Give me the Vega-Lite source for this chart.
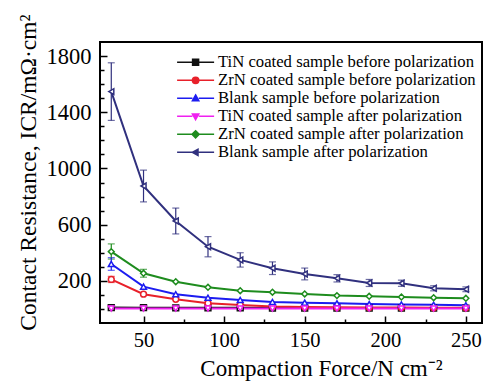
{
  "$schema": "https://vega.github.io/schema/vega-lite/v6.json",
  "width": 382,
  "height": 281,
  "autosize": "none",
  "padding": {"left": 100, "top": 42, "right": 6, "bottom": 58},
  "background": "white",
  "config": {"view": {"stroke": "black", "strokeWidth": 2}, "font": "Liberation Serif"},
  "datasets": {
    "pts": [
      {"x": 30, "y": 10, "series": "TiN coated sample before polarization"},
      {"x": 50, "y": 9, "series": "TiN coated sample before polarization"},
      {"x": 70, "y": 8, "series": "TiN coated sample before polarization"},
      {"x": 90, "y": 8, "series": "TiN coated sample before polarization"},
      {"x": 110, "y": 8, "series": "TiN coated sample before polarization"},
      {"x": 130, "y": 7, "series": "TiN coated sample before polarization"},
      {"x": 150, "y": 7, "series": "TiN coated sample before polarization"},
      {"x": 170, "y": 7, "series": "TiN coated sample before polarization"},
      {"x": 190, "y": 6, "series": "TiN coated sample before polarization"},
      {"x": 210, "y": 6, "series": "TiN coated sample before polarization"},
      {"x": 230, "y": 6, "series": "TiN coated sample before polarization"},
      {"x": 250, "y": 6, "series": "TiN coated sample before polarization"},
      {"x": 30, "y": 210, "series": "ZrN coated sample before polarization"},
      {"x": 50, "y": 105, "series": "ZrN coated sample before polarization"},
      {"x": 70, "y": 69, "series": "ZrN coated sample before polarization"},
      {"x": 90, "y": 41, "series": "ZrN coated sample before polarization"},
      {"x": 110, "y": 28, "series": "ZrN coated sample before polarization"},
      {"x": 130, "y": 18, "series": "ZrN coated sample before polarization"},
      {"x": 150, "y": 14, "series": "ZrN coated sample before polarization"},
      {"x": 170, "y": 12, "series": "ZrN coated sample before polarization"},
      {"x": 190, "y": 10, "series": "ZrN coated sample before polarization"},
      {"x": 210, "y": 10, "series": "ZrN coated sample before polarization"},
      {"x": 230, "y": 8, "series": "ZrN coated sample before polarization"},
      {"x": 250, "y": 8, "series": "ZrN coated sample before polarization"},
      {"x": 30, "y": 320, "series": "Blank sample before polarization"},
      {"x": 50, "y": 159, "series": "Blank sample before polarization"},
      {"x": 70, "y": 105, "series": "Blank sample before polarization"},
      {"x": 90, "y": 80, "series": "Blank sample before polarization"},
      {"x": 110, "y": 64, "series": "Blank sample before polarization"},
      {"x": 130, "y": 50, "series": "Blank sample before polarization"},
      {"x": 150, "y": 45, "series": "Blank sample before polarization"},
      {"x": 170, "y": 40, "series": "Blank sample before polarization"},
      {"x": 190, "y": 35, "series": "Blank sample before polarization"},
      {"x": 210, "y": 32, "series": "Blank sample before polarization"},
      {"x": 230, "y": 30, "series": "Blank sample before polarization"},
      {"x": 250, "y": 27, "series": "Blank sample before polarization"},
      {"x": 30, "y": 3, "series": "TiN coated sample after polarization"},
      {"x": 50, "y": 3, "series": "TiN coated sample after polarization"},
      {"x": 70, "y": 3, "series": "TiN coated sample after polarization"},
      {"x": 90, "y": 3, "series": "TiN coated sample after polarization"},
      {"x": 110, "y": 3, "series": "TiN coated sample after polarization"},
      {"x": 130, "y": 3, "series": "TiN coated sample after polarization"},
      {"x": 150, "y": 3, "series": "TiN coated sample after polarization"},
      {"x": 170, "y": 3, "series": "TiN coated sample after polarization"},
      {"x": 190, "y": 3, "series": "TiN coated sample after polarization"},
      {"x": 210, "y": 3, "series": "TiN coated sample after polarization"},
      {"x": 230, "y": 3, "series": "TiN coated sample after polarization"},
      {"x": 250, "y": 3, "series": "TiN coated sample after polarization"},
      {"x": 30, "y": 408, "series": "ZrN coated sample after polarization"},
      {"x": 50, "y": 254, "series": "ZrN coated sample after polarization"},
      {"x": 70, "y": 194, "series": "ZrN coated sample after polarization"},
      {"x": 90, "y": 154, "series": "ZrN coated sample after polarization"},
      {"x": 110, "y": 130, "series": "ZrN coated sample after polarization"},
      {"x": 130, "y": 119, "series": "ZrN coated sample after polarization"},
      {"x": 150, "y": 107, "series": "ZrN coated sample after polarization"},
      {"x": 170, "y": 95, "series": "ZrN coated sample after polarization"},
      {"x": 190, "y": 90, "series": "ZrN coated sample after polarization"},
      {"x": 210, "y": 85, "series": "ZrN coated sample after polarization"},
      {"x": 230, "y": 80, "series": "ZrN coated sample after polarization"},
      {"x": 250, "y": 76, "series": "ZrN coated sample after polarization"},
      {"x": 30, "y": 1547, "series": "Blank sample after polarization"},
      {"x": 50, "y": 875, "series": "Blank sample after polarization"},
      {"x": 70, "y": 626, "series": "Blank sample after polarization"},
      {"x": 90, "y": 443, "series": "Blank sample after polarization"},
      {"x": 110, "y": 349, "series": "Blank sample after polarization"},
      {"x": 130, "y": 290, "series": "Blank sample after polarization"},
      {"x": 150, "y": 249, "series": "Blank sample after polarization"},
      {"x": 170, "y": 218, "series": "Blank sample after polarization"},
      {"x": 190, "y": 185, "series": "Blank sample after polarization"},
      {"x": 210, "y": 183, "series": "Blank sample after polarization"},
      {"x": 230, "y": 147, "series": "Blank sample after polarization"},
      {"x": 250, "y": 140, "series": "Blank sample after polarization"}
    ],
    "errs": [
      {"x": 30, "lo": 1342, "hi": 1752, "series": "Blank sample after polarization"},
      {"x": 50, "lo": 762, "hi": 988, "series": "Blank sample after polarization"},
      {"x": 70, "lo": 534, "hi": 718, "series": "Blank sample after polarization"},
      {"x": 90, "lo": 371, "hi": 515, "series": "Blank sample after polarization"},
      {"x": 110, "lo": 298, "hi": 400, "series": "Blank sample after polarization"},
      {"x": 130, "lo": 245, "hi": 335, "series": "Blank sample after polarization"},
      {"x": 150, "lo": 207, "hi": 291, "series": "Blank sample after polarization"},
      {"x": 170, "lo": 192, "hi": 244, "series": "Blank sample after polarization"},
      {"x": 190, "lo": 160, "hi": 210, "series": "Blank sample after polarization"},
      {"x": 210, "lo": 161, "hi": 205, "series": "Blank sample after polarization"},
      {"x": 230, "lo": 129, "hi": 165, "series": "Blank sample after polarization"},
      {"x": 250, "lo": 123, "hi": 157, "series": "Blank sample after polarization"},
      {"x": 30, "lo": 355, "hi": 463, "series": "ZrN coated sample after polarization"},
      {"x": 50, "lo": 226, "hi": 282, "series": "ZrN coated sample after polarization"},
      {"x": 30, "lo": 275, "hi": 365, "series": "Blank sample before polarization"},
      {"x": 30, "lo": 188, "hi": 232, "series": "ZrN coated sample before polarization"}
    ]
  },
  "encoding": {
    "x": {
      "field": "x",
      "type": "quantitative",
      "scale": {"domain": [23, 260], "nice": false, "zero": false},
      "axis": {
        "title": "Compaction Force/N cm⁻²",
        "values": [50, 75, 100, 125, 150, 175, 200, 225, 250],
        "labelExpr": "datum.value % 50 === 0 ? datum.label : ''",
        "tickSize": {"condition": {"test": "datum.value % 50 === 0", "value": -7}, "value": -4},
        "tickColor": "black",
        "tickWidth": 1.5,
        "domain": false,
        "grid": false,
        "labelOverlap": false,
        "labelFontSize": 20.5,
        "labelColor": "black",
        "labelFont": "Liberation Serif",
        "labelPadding": 14,
        "titleFont": "Liberation Serif",
        "titleFontSize": 23,
        "titleFontWeight": "normal",
        "titleColor": "black",
        "titleX": 221,
        "titleY": 52,
        "titleBaseline": "alphabetic"
      }
    },
    "y": {
      "field": "y",
      "type": "quantitative",
      "scale": {"domain": [-100, 1900], "nice": false, "zero": false},
      "axis": {
        "title": "Contact Resistance, ICR/mΩ·cm²",
        "values": [0, 100, 200, 300, 400, 500, 600, 700, 800, 900, 1000, 1100, 1200, 1300, 1400, 1500, 1600, 1700, 1800],
        "format": "d",
        "labelExpr": "datum.value % 400 === 200 ? datum.label : ''",
        "labelOverlap": false,
        "tickSize": {"condition": {"test": "datum.value % 400 === 200", "value": -7}, "value": -4},
        "tickColor": "black",
        "tickWidth": 1.5,
        "domain": false,
        "grid": false,
        "labelFontSize": 22.5,
        "labelColor": "black",
        "labelFont": "Liberation Serif",
        "labelPadding": 16,
        "titleFont": "Liberation Serif",
        "titleFontSize": 23.5,
        "titleFontWeight": "normal",
        "titleColor": "black",
        "titleX": -64.5,
        "titleY": 130,
        "titleBaseline": "alphabetic"
      }
    }
  },
  "layer": [
    {
      "data": {"name": "errs"},
      "mark": {"type": "errorbar", "ticks": {"size": 7}, "thickness": 1.2},
      "encoding": {
        "y": {"field": "lo", "type": "quantitative", "title": "Contact Resistance, ICR/mΩ·cm²"},
        "y2": {"field": "hi"},
        "color": {
          "field": "series",
          "type": "nominal",
          "scale": {
            "domain": ["TiN coated sample before polarization", "ZrN coated sample before polarization", "Blank sample before polarization", "TiN coated sample after polarization", "ZrN coated sample after polarization", "Blank sample after polarization"],
            "range": ["#111111", "#e8202a", "#1c1cf0", "#f020f0", "#1e8c1e", "#30307e"]
          }
        }
      }
    },
    {
      "data": {"name": "pts"},
      "mark": {"type": "line", "strokeWidth": 2},
      "encoding": {
        "color": {
          "field": "series",
          "type": "nominal",
          "legend": {
            "orient": "none",
            "legendX": 87.25,
            "legendY": 12,
            "title": null,
            "padding": 0,
            "labelFontSize": 13,
            "labelFont": "Liberation Serif",
            "labelColor": "black",
            "labelLimit": 0,
            "rowPadding": -5.6,
            "labelOffset": 14,
            "symbolSize": 16,
            "symbolFillColor": "white",
            "encode": {
              "labels": {
                "update": {
                  "fontSize": {"value": 16.7}
                }
              },
              "symbols": {
                "update": {
                  "shape": {"signal": "datum.index===0 ? 'M-9.25,0H-1.5M1.5,0H9.25M-1.5,-1.5H1.5V1.5H-1.5Z' : datum.index===1 ? 'M-9.25,0H-1.6M1.6,0H9.25M-1.6,0A1.6,1.6,0,1,1,1.6,0A1.6,1.6,0,1,1,-1.6,0Z' : datum.index===2 ? 'M-9.25,0H-1.6M1.6,0H9.25M0,-1.7L1.6,1.2H-1.6Z' : datum.index===3 ? 'M-9.25,0H-1.6M1.6,0H9.25M0,1.7L1.6,-1.2H-1.6Z' : datum.index===4 ? 'M-9.25,0H-1.8M1.8,0H9.25M0,-1.8L1.8,0L0,1.8L-1.8,0Z' : 'M-9.25,0H-1.7M1.6,0H9.25M-1.7,0L1.2,-1.6V1.6Z'"},
                  "size": {"value": 16},
                  "strokeWidth": {"value": 1.5},
                  "fill": {"value": "white"},
                  "fillOpacity": {"value": 1}
                }
              }
            }
          }
        }
      }
    },
    {
      "data": {"name": "pts"},
      "mark": {"type": "point", "filled": false, "fill": "white", "size": 34, "strokeWidth": 1.5, "opacity": 1},
      "encoding": {
        "stroke": {
          "field": "series",
          "type": "nominal",
          "scale": {
            "range": ["#30307e", "#1c1cf0", "#f020f0", "#111111", "#1e8c1e", "#e8202a"]
          },
          "legend": null
        },
        "shape": {
          "field": "series",
          "type": "nominal",
          "scale": {
            "range": ["triangle-left", "triangle-up", "triangle-down", "square", "diamond", "circle"]
          },
          "legend": null
        }
      }
    }
  ]
}
